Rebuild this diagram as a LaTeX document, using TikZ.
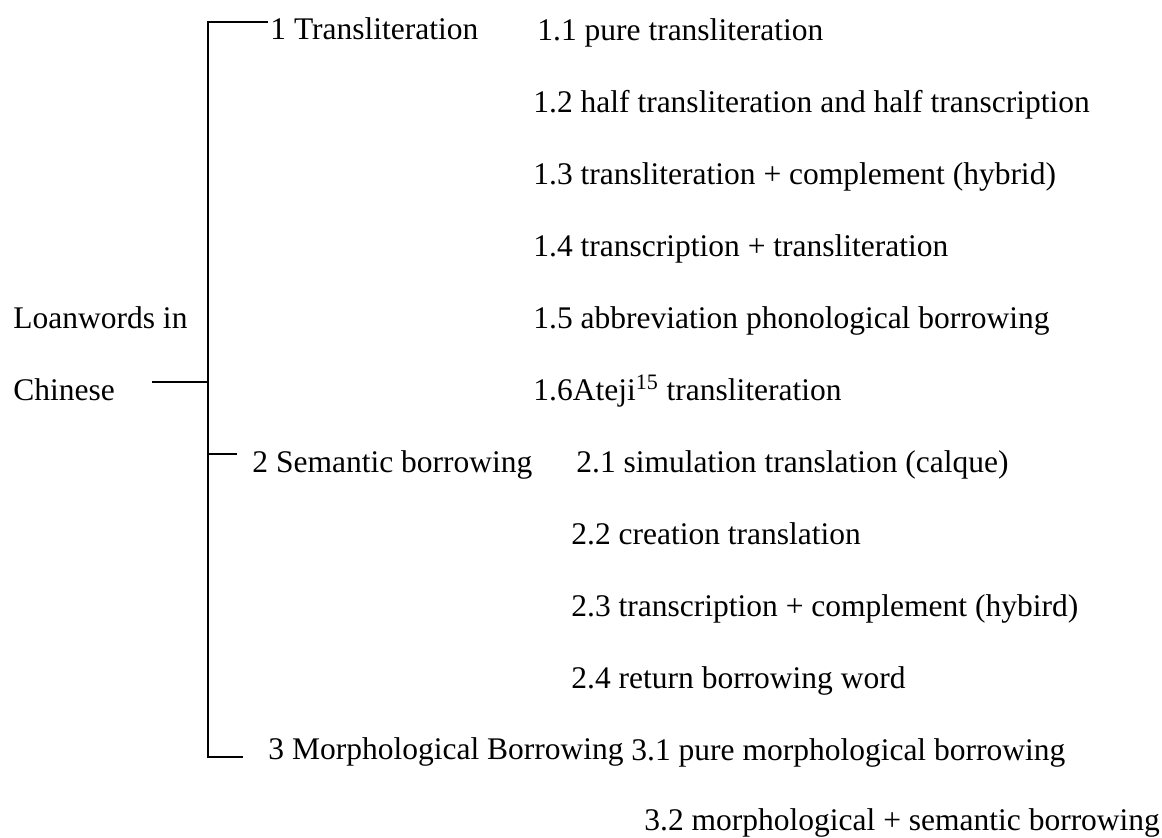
\documentclass[tikz,border=0pt]{standalone}
\usepackage{fontspec}
\setmainfont{Liberation Serif}
\begin{document}
\begin{tikzpicture}[x=0.5pt,y=-0.5pt,
  lbl/.style={anchor=base west,inner sep=0pt,font=\fontsize{15.75}{19}\selectfont},
  brk/.style={line width=1pt,line cap=butt,line join=miter}]
\useasboundingbox (0,0) rectangle (1162,837);
% root
\node[lbl] (root1) at (13,328) {Loanwords in};
\node[lbl] (root2) at (13,400) {Chinese};
% categories
\node[lbl] (c1) at (270,39) {1 Transliteration};
\node[lbl] (c2) at (252,472) {2 Semantic borrowing};
\node[lbl] (c3) at (268,759) {3 Morphological Borrowing};
% subcategories
\node[lbl] (s11) at (537,40) {1.1 pure transliteration};
\node[lbl] (s12) at (533,112) {1.2 half transliteration and half transcription};
\node[lbl] (s13) at (533,184) {1.3 transliteration + complement (hybrid)};
\node[lbl] (s14) at (533,256) {1.4 transcription + transliteration};
\node[lbl] (s15) at (533,328) {1.5 abbreviation phonological borrowing};
\node[lbl] (s16) at (533,400) {1.6Ateji\textsuperscript{15} transliteration};
\node[lbl] (s21) at (576,472) {2.1 simulation translation (calque)};
\node[lbl] (s22) at (571,544) {2.2 creation translation};
\node[lbl] (s23) at (571,616) {2.3 transcription + complement (hybird)};
\node[lbl] (s24) at (571,688) {2.4 return borrowing word};
\node[lbl] (s31) at (631,760) {3.1 pure morphological borrowing};
\node[lbl] (s32) at (644,830) {3.2 morphological + semantic borrowing};
% bracket
\coordinate (brTop) at (207.5,21.5);
\coordinate (brBot) at (207.5,757);
\coordinate (hub) at (207.5,382);
\coordinate (t1end) at (268,21.5);
\coordinate (t2s) at (207.5,454);
\coordinate (t2e) at (237,454);
\coordinate (t3e) at (243,757);
\coordinate (rootEnd) at (152,382);
\draw[brk] (t1end) -- (brTop) -- (brBot) -- (t3e);
\draw[brk] (rootEnd) -- (hub);
\draw[brk] (t2s) -- (t2e);
\end{tikzpicture}
\end{document}
